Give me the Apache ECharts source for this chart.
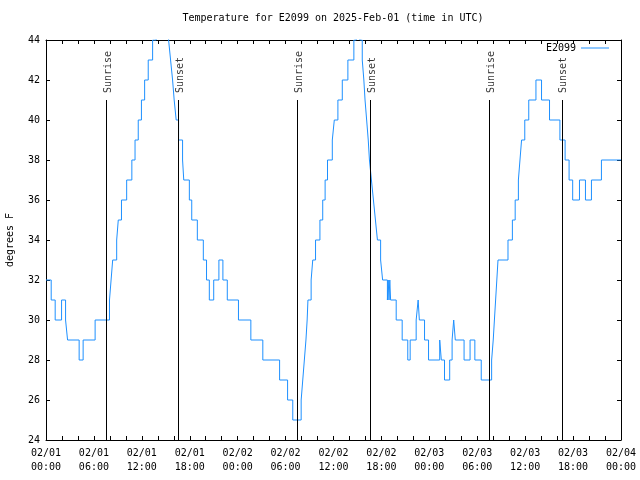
<!DOCTYPE html>
<html>
<head>
<meta charset="utf-8">
<script src="https://cdn.jsdelivr.net/npm/echarts@6/dist/echarts.min.js"></script>
<style>html,body{margin:0;padding:0;background:#fff}#c{width:640px;height:480px}</style>
</head>
<body>
<div id="c"></div>
<script>
// Hours after 2025-02-01 00:00 UTC at which each reading level begins
const hours = [0,0.65,1.15,1.95,2.45,2.7,4.15,4.65,6.15,7.95,8.15,8.35,8.85,9.05,9.45,10.1,10.75,11.15,11.55,11.95,12.35,12.8,13.35,13.8,14.3,14.9,15.35,15.6,15.85,16.05,16.3,16.6,17.1,17.25,17.95,18.25,18.95,19.7,20.1,20.45,21.0,21.65,22.15,22.7,24.1,25.65,27.15,29.25,30.25,30.9,31.95,32.15,32.35,32.55,32.7,32.8,33.2,33.4,33.75,34.3,34.65,34.95,35.25,35.85,36.1,36.55,37.1,37.8,38.55,38.85,39.3,39.6,39.8,39.95,40.15,40.35,40.5,40.75,41.0,41.25,41.5,41.9,42.15,42.75,42.85,42.95,43.05,43.15,43.85,44.6,45.3,45.6,46.35,46.6,46.75,47.4,47.9,49.3,49.5,49.9,50.55,50.85,51.05,51.25,52.35,53.1,53.7,54.5,55.8,56.0,56.15,56.3,56.45,56.6,57.85,58.4,58.75,59.15,59.35,59.55,59.95,60.45,61.35,62.05,63.05,64.35,65.0,65.5,65.95,66.8,67.55,68.3,69.55,72];
const temps = [32,31,30,31,30,29,28,29,30,31,32,33,34,35,36,37,38,39,40,41,42,43,44,45,46,45,44,43,42,41,40,39,38,37,36,35,34,33,32,31,32,33,32,31,30,29,28,27,26,25,26,27,28,29,30,31,32,33,34,35,36,37,38,39,40,41,42,43,44,45,44,43,42,41,40,39,38,37,36,35,34,33,32,31,32,31,32,31,30,29,28,29,30,31,30,29,28,29,28,27,28,29,30,29,28,29,28,27,28,29,30,31,32,33,34,35,36,37,38,39,40,41,42,41,40,39,38,37,36,37,36,37,38,38];
// Sun events (hours after start) and their labels
const sunHours = [7.55,16.55,31.5,40.6,55.5,64.6];
const sunLabels = ['Sunrise','Sunset','Sunrise','Sunset','Sunrise','Sunset'];
const sunLineTop = 41;
const yMin = 24, yMax = 44, yStep = 2;
const xMin = 0, xMax = 72, xStep = 2;
const days = ['02/01','02/02','02/03','02/04'];

const FONT = '"DejaVu Sans Mono", "Liberation Mono", monospace';
const series = hours.map((h,i)=>[h,temps[i]]);

function xLabel(v){
  if (v % 6 !== 0) return '';
  const d = Math.floor(v/24);
  const hh = v % 24;
  return days[d] + '\n' + String(hh).padStart(2,'0') + ':00';
}

const chart = echarts.init(document.getElementById('c'), null, {renderer:'canvas'});
const axisCommon = {
  axisLine:{show:true,onZero:false,lineStyle:{color:'#000',width:1}},
  axisTick:{show:true,inside:true,length:4,lineStyle:{color:'#000',width:1}},
  splitLine:{show:false}
};
chart.setOption({
  animation:false,
  backgroundColor:'#fff',
  title:{
    text:'Temperature for E2099 on 2025-Feb-01 (time in UTC)',
    left:333, top:13, padding:0, textAlign:'center',
    textStyle:{fontFamily:FONT,fontSize:10,fontWeight:'normal',color:'#000'}
  },
  legend:{
    data:['E2099'], right:31, top:43, padding:0, align:'right',
    icon:'rect', itemWidth:28, itemHeight:1,
    textStyle:{fontFamily:FONT,fontSize:10,color:'#000'}
  },
  grid:{left:46,right:19,top:40,bottom:40,containLabel:false,outerBoundsMode:'none'},
  xAxis:[
    Object.assign({type:'value',min:xMin,max:xMax,interval:xStep,position:'bottom',
      axisLabel:{show:true,formatter:xLabel,margin:6,lineHeight:14,fontFamily:FONT,fontSize:10,color:'#000',showMinLabel:true,showMaxLabel:true}},axisCommon),
    Object.assign({type:'value',min:xMin,max:xMax,interval:xStep,position:'top',
      axisLabel:{show:false}},axisCommon)
  ],
  yAxis:[
    Object.assign({type:'value',min:yMin,max:yMax,interval:yStep,position:'left',
      name:'degrees F',nameLocation:'middle',nameGap:31,nameRotate:90,
      nameTextStyle:{fontFamily:FONT,fontSize:10,color:'#000'},
      axisLabel:{margin:6,fontFamily:FONT,fontSize:10,color:'#000'}},axisCommon),
    Object.assign({type:'value',min:yMin,max:yMax,interval:yStep,position:'right',
      axisLabel:{show:false}},axisCommon)
  ],
  series:[
    {
      name:'E2099', type:'line', data:series, step:'end', symbol:'none', showSymbol:false,
      clip:true, color:'#1e90ff',
      lineStyle:{color:'#1e90ff',width:1},
      markLine:{
        silent:true, symbol:['none','none'], animation:false,
        label:{show:false},
        lineStyle:{color:'#000',width:1,type:'solid'},
        data: sunHours.map(h=>[{coord:[h,yMin]},{coord:[h,sunLineTop]}])
      },
      z:3
    },
    {
      name:'sun', type:'scatter', symbolSize:0, silent:true,
      data: sunHours.map((h,i)=>({value:[h,sunLineTop],name:sunLabels[i]})),
      label:{show:true,formatter:p=>p.name,rotate:90,position:'top',distance:6,
        align:'left',verticalAlign:'middle',offset:[1,2],
        fontFamily:FONT,fontSize:10,color:'#000'},
      z:2
    }
  ]
});
</script>
</body>
</html>
